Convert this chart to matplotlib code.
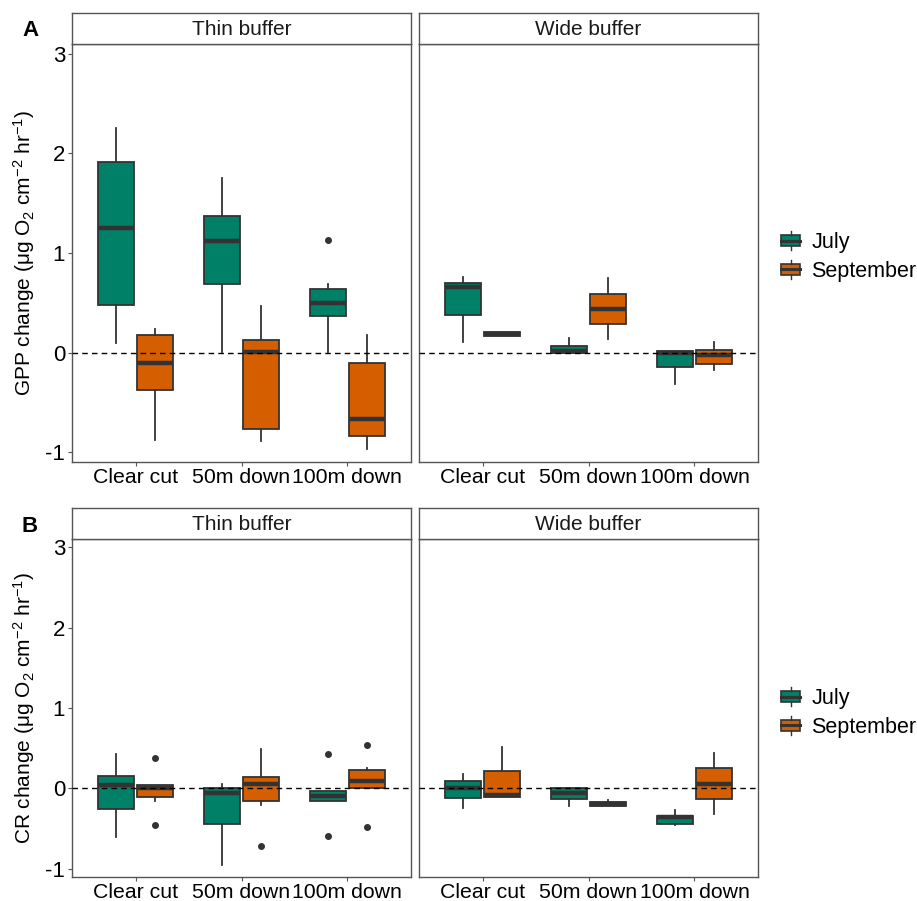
import matplotlib
matplotlib.use("Agg")
import matplotlib.pyplot as plt
from matplotlib.patches import Rectangle
from matplotlib.lines import Line2D
from matplotlib.legend_handler import HandlerBase

plt.rcParams["font.family"] = ["Liberation Sans", "DejaVu Sans"]
plt.rcParams["mathtext.fontset"] = "custom"
plt.rcParams["mathtext.rm"] = "Liberation Sans"
plt.rcParams["mathtext.it"] = "Liberation Sans:italic"

categories = ["Clear cut", "50m down", "100m down"]
months = ["July", "September"]
buffers = ["Thin buffer", "Wide buffer"]
month_colors = ["#008066", "#D55E00"]

# five-number summaries per category: [low whisker, Q1, median, Q3, high whisker]
gpp_thin_july = [[0.10, 0.48, 1.25, 1.91, 2.26], [0.01, 0.69, 1.12, 1.37, 1.75], [0.01, 0.37, 0.50, 0.64, 0.69]]
gpp_thin_sept = [[-0.88, -0.38, -0.11, 0.18, 0.235], [-0.89, -0.77, 0.01, 0.13, 0.47], [-0.97, -0.84, -0.67, -0.11, 0.18]]
gpp_wide_july = [[0.11, 0.375, 0.66, 0.70, 0.76], [0.0, 0.0, 0.02, 0.07, 0.145], [-0.32, -0.15, 0.0, 0.02, 0.02]]
gpp_wide_sept = [[0.17, 0.17, 0.19, 0.21, 0.21], [0.135, 0.285, 0.435, 0.585, 0.75], [-0.18, -0.12, -0.02, 0.03, 0.11]]
gpp_thin_july_out = [[], [], [1.13]]
gpp_thin_sept_out = [[], [], []]
gpp_wide_july_out = [[], [], []]
gpp_wide_sept_out = [[], [], []]

cr_thin_july = [[-0.60, -0.25, 0.04, 0.15, 0.43], [-0.95, -0.44, -0.05, 0.01, 0.05], [-0.15, -0.15, -0.09, -0.03, -0.03]]
cr_thin_sept = [[-0.15, -0.10, 0.0, 0.04, 0.04], [-0.20, -0.15, 0.06, 0.14, 0.49], [0.01, 0.01, 0.09, 0.23, 0.25]]
cr_wide_july = [[-0.245, -0.12, 0.01, 0.09, 0.18], [-0.22, -0.13, -0.06, 0.0, 0.0], [-0.46, -0.44, -0.36, -0.34, -0.27]]
cr_wide_sept = [[-0.11, -0.11, -0.08, 0.215, 0.52], [-0.215, -0.215, -0.19, -0.17, -0.145], [-0.32, -0.13, 0.06, 0.26, 0.44]]
cr_thin_july_out = [[], [], [0.43, -0.59]]
cr_thin_sept_out = [[0.38, -0.45], [-0.71], [0.54, -0.48]]
cr_wide_july_out = [[], [], []]
cr_wide_sept_out = [[], [], []]

EDGE = "#333333"
W, H = 917, 901


def draw_panel(ax, july, sept, july_out, sept_out, strip):
    for m, (stats5, outs) in enumerate([(july, july_out), (sept, sept_out)]):
        stats = []
        for s, o in zip(stats5, outs):
            stats.append(dict(whislo=s[0], q1=s[1], med=s[2], q3=s[3], whishi=s[4], fliers=o))
        pos = [i + 1 + (m - 0.5) * 0.375 for i in range(len(stats))]
        ax.bxp(stats, positions=pos, widths=0.34, patch_artist=True, showcaps=False,
               boxprops=dict(facecolor=month_colors[m], edgecolor=EDGE, linewidth=1.3),
               medianprops=dict(color=EDGE, linewidth=3.2, solid_capstyle="butt"),
               whiskerprops=dict(color=EDGE, linewidth=1.3),
               flierprops=dict(marker="o", markersize=4, markerfacecolor=EDGE, markeredgecolor=EDGE))
    ax.axhline(0, color="black", linestyle=(0, (4, 3)), linewidth=1.0, zorder=5)
    ax.set_xlim(0.4, 3.6)
    ax.set_ylim(-1.1, 3.1)
    ax.set_xticks([1, 2, 3])
    ax.set_xticklabels(categories, fontsize=15.3)
    ax.set_yticks([-1, 0, 1, 2, 3])
    ax.set_yticklabels(["-1", "0", "1", "2", "3"], fontsize=16)
    ax.tick_params(length=3, color="#555555", width=0.8, pad=2)
    ax.tick_params(axis="x", pad=1)
    for sp in ax.spines.values():
        sp.set_color("#555555")
        sp.set_linewidth(1.0)
    # facet strip
    fig = ax.figure
    bb = ax.get_position()
    sax = fig.add_axes([bb.x0, bb.y1, bb.width, 31 / H])
    sax.set_xticks([])
    sax.set_yticks([])
    for sp in sax.spines.values():
        sp.set_color("#555555")
        sp.set_linewidth(1.0)
    sax.text(0.5, 0.48, strip, ha="center", va="center", fontsize=15, color="#1a1a1a")


class BoxHandler(HandlerBase):
    def create_artists(self, legend, orig_handle, xdescent, ydescent, width, height, fontsize, trans):
        x0 = -xdescent
        cx = x0 + width / 2
        y0 = -ydescent
        h = height
        rect = Rectangle((x0, y0 + h * 0.15), width, h * 0.7, facecolor=orig_handle.get_facecolor(),
                         edgecolor=EDGE, linewidth=1.2, transform=trans)
        med = Line2D([x0, x0 + width], [y0 + h * 0.5] * 2, color=EDGE, linewidth=2.2, transform=trans)
        wl = Line2D([cx, cx], [y0 - h * 0.1, y0 + h * 0.15], color=EDGE, linewidth=1, transform=trans)
        wh = Line2D([cx, cx], [y0 + h * 0.85, y0 + h * 1.1], color=EDGE, linewidth=1, transform=trans)
        return [rect, med, wl, wh]


fig = plt.figure(figsize=(W / 100, H / 100), dpi=100)

top_b, top_h = 1 - 462 / H, 418 / H
bot_b, bot_h = 1 - 877 / H, 338 / H
xl = [72 / W, 419 / W]
pw = 339 / W

gpp_label = r"GPP change ($\mathregular{\mu}$g O$\mathregular{_2}$ cm$\mathregular{^{-2}}$ hr$\mathregular{^{-1}}$)"
cr_label = r"CR change ($\mathregular{\mu}$g O$\mathregular{_2}$ cm$\mathregular{^{-2}}$ hr$\mathregular{^{-1}}$)"

panels = [
    (top_b, top_h, [(gpp_thin_july, gpp_thin_sept, gpp_thin_july_out, gpp_thin_sept_out),
                    (gpp_wide_july, gpp_wide_sept, gpp_wide_july_out, gpp_wide_sept_out)],
     gpp_label, "A", 30, 257),
    (bot_b, bot_h, [(cr_thin_july, cr_thin_sept, cr_thin_july_out, cr_thin_sept_out),
                    (cr_wide_july, cr_wide_sept, cr_wide_july_out, cr_wide_sept_out)],
     cr_label, "B", 527, 713),
]

for b, h, data, ylab, letter, ly, leg_y in panels:
    axes = []
    for j in range(2):
        ax = fig.add_axes([xl[j], b, pw, h])
        draw_panel(ax, *data[j], buffers[j])
        axes.append(ax)
    axes[1].set_yticklabels([])
    axes[1].tick_params(axis="y", length=0)
    axes[0].set_ylabel(ylab, fontsize=15, labelpad=6)
    fig.text(30 / W, 1 - ly / H, letter, fontsize=16, fontweight="bold", ha="center", va="center")
    handles = [Rectangle((0, 0), 1, 1, facecolor=c) for c in month_colors]
    fig.legend(handles, months, handler_map={Rectangle: BoxHandler()}, loc="center left",
               bbox_to_anchor=(781 / W, 1 - leg_y / H), frameon=False, fontsize=15.5,
               handlelength=0.9, handleheight=0.75, handletextpad=0.5, labelspacing=0.35,
               borderaxespad=0, borderpad=0)

fig.savefig("out.png", dpi=100)
